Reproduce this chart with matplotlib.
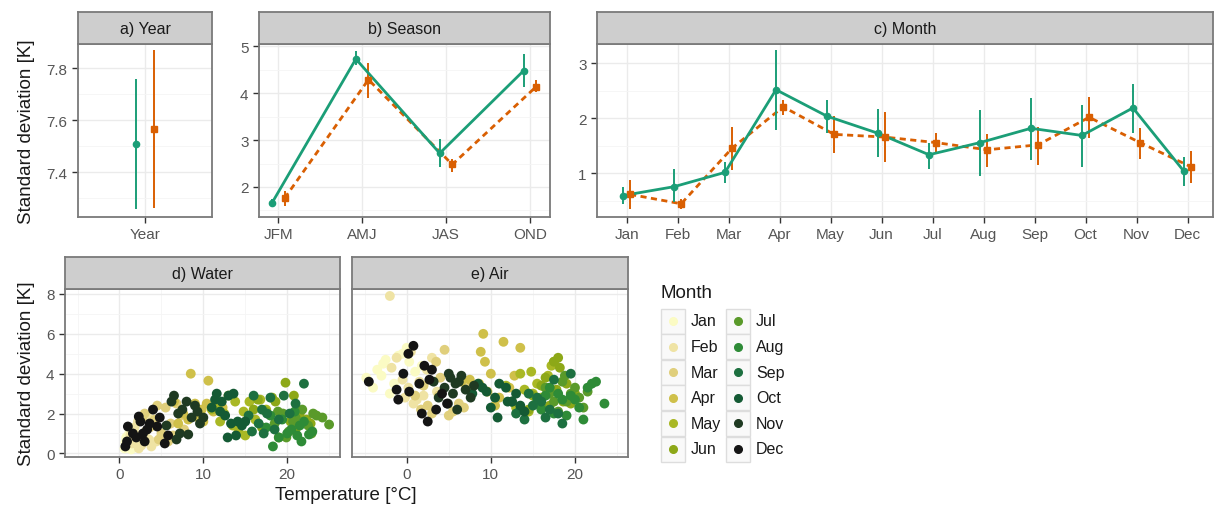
import matplotlib
matplotlib.use("Agg")
import matplotlib.pyplot as plt
from matplotlib.patches import Rectangle
import numpy as np

plt.rcParams['font.family'] = ['Liberation Sans', 'DejaVu Sans']

W, H = 1217, 510
GREEN = "#1b9e77"
ORANGE = "#d95f02"
BORDER = "#7a7a7a"
GRID = "#ebebeb"
STRIP = "#cecece"
TICKC = "#555555"

# ---- a) Year
year_cat = ["Year"]
year_g = [7.51]; year_g_lo = [7.26]; year_g_hi = [7.76]
year_o = [7.565]; year_o_lo = [7.263]; year_o_hi = [7.87]

# ---- b) Season
seasons = ["JFM", "AMJ", "JAS", "OND"]
season_g = [1.66, 4.73, 2.72, 4.48]
season_g_lo = [1.58, 4.60, 2.42, 4.13]
season_g_hi = [1.75, 4.90, 3.02, 4.83]
season_o = [1.76, 4.29, 2.48, 4.14]
season_o_lo = [1.60, 3.90, 2.33, 4.02]
season_o_hi = [1.92, 4.65, 2.60, 4.28]

# ---- c) Month
months = ["Jan", "Feb", "Mar", "Apr", "May", "Jun",
          "Jul", "Aug", "Sep", "Oct", "Nov", "Dec"]
month_g = [0.60, 0.76, 1.02, 2.52, 2.04, 1.73, 1.34, 1.56, 1.82, 1.69, 2.19, 1.04]
month_g_lo = [0.45, 0.48, 0.82, 1.79, 1.73, 1.29, 1.08, 0.95, 1.24, 1.12, 1.73, 0.77]
month_g_hi = [0.76, 1.08, 1.21, 3.24, 2.34, 2.17, 1.55, 2.15, 2.37, 2.24, 2.63, 1.30]
month_o = [0.62, 0.45, 1.46, 2.21, 1.71, 1.66, 1.56, 1.43, 1.52, 2.02, 1.56, 1.12]
month_o_lo = [0.35, 0.35, 1.06, 2.07, 1.37, 1.20, 1.37, 1.12, 1.16, 1.64, 1.26, 0.83]
month_o_hi = [0.88, 0.54, 1.84, 2.34, 2.04, 2.12, 1.74, 1.71, 1.85, 2.39, 1.82, 1.40]

month_colors = ["#fbfbc4", "#efe3a4", "#e0cf7c", "#cfc04a", "#a9b825", "#8da818",
                "#5a9a2a", "#2e8b37", "#1d7040", "#145a34", "#1f3a22", "#141414"]

# ---- d) Water: temperature and standard deviation, per month
water_t = {
    "Jan": [0.6, 0.9, 1.2, 1.5, 0.8, 1.8, 2.1, 1.1, 2.4, 1.4, 0.7, 1.9, 2.6, 1.0],
    "Feb": [1.5, 2.0, 2.6, 3.1, 1.8, 3.5, 2.3, 4.0, 2.9, 1.3, 3.8, 2.2, 3.3, 4.4],
    "Mar": [3.0, 4.2, 5.0, 5.5, 6.1, 3.6, 4.7, 6.8, 7.3, 5.8, 2.7, 4.5, 7.7, 6.4],
    "Apr": [8.5, 10.6, 9.0, 9.8, 7.6, 10.4, 11.2, 8.2, 9.4, 6.5, 11.8, 10.0, 7.0, 12.3],
    "May": [11.0, 12.5, 13.5, 14.8, 15.5, 16.2, 13.0, 12.0, 14.2, 16.8, 15.0, 17.5, 11.6, 13.8],
    "Jun": [19.8, 16.5, 17.5, 18.6, 20.4, 21.5, 19.0, 22.3, 17.0, 20.8, 16.0, 21.0, 18.2, 22.8],
    "Jul": [19.5, 21.0, 22.5, 23.5, 20.2, 24.2, 18.5, 21.8, 22.9, 19.9, 25.0, 20.7, 23.1, 18.9],
    "Aug": [18.3, 20.5, 21.2, 22.0, 19.0, 17.5, 20.0, 21.7, 23.0, 19.4, 22.6, 18.0, 20.9, 21.5],
    "Sep": [16.0, 17.0, 18.0, 19.6, 16.6, 20.3, 18.5, 17.6, 15.4, 21.0, 19.0, 22.0, 17.2, 15.8],
    "Oct": [11.6, 12.2, 13.0, 13.6, 12.0, 14.1, 11.0, 12.6, 14.6, 13.3, 11.4, 12.9, 15.0, 13.9],
    "Nov": [6.5, 7.5, 8.0, 9.0, 8.6, 6.2, 7.2, 9.6, 10.0, 7.0, 8.2, 5.6, 9.3, 6.8],
    "Dec": [0.7, 1.0, 2.3, 2.8, 3.6, 4.0, 1.6, 3.0, 4.5, 5.4, 2.0, 3.3, 0.9, 4.8, 5.8, 2.5],
}
water_sd = {
    "Jan": [0.25, 0.45, 0.35, 0.6, 0.8, 0.3, 0.55, 0.95, 0.4, 0.2, 0.55, 0.75, 0.9, 0.3],
    "Feb": [0.5, 0.9, 0.4, 1.1, 1.3, 0.7, 0.25, 1.5, 0.8, 0.9, 0.35, 1.6, 1.9, 0.6],
    "Mar": [2.0, 1.7, 1.0, 2.3, 1.5, 1.3, 0.7, 2.5, 1.9, 0.6, 1.8, 2.4, 1.2, 0.9],
    "Apr": [4.0, 3.65, 2.5, 2.2, 2.0, 2.5, 2.1, 1.7, 1.8, 2.6, 2.6, 1.6, 1.5, 2.3],
    "May": [2.2, 2.0, 1.4, 2.1, 2.6, 1.7, 2.9, 1.6, 1.1, 2.7, 0.9, 2.2, 2.4, 2.6],
    "Jun": [3.55, 2.7, 2.1, 2.6, 1.6, 2.0, 0.8, 1.7, 1.3, 2.9, 2.2, 1.2, 2.8, 1.5],
    "Jul": [2.0, 1.8, 1.4, 1.9, 1.1, 1.8, 1.5, 2.2, 1.0, 0.8, 1.45, 1.6, 2.0, 2.1],
    "Aug": [0.35, 1.2, 0.9, 1.6, 0.8, 1.3, 1.0, 0.6, 1.1, 1.7, 0.95, 1.9, 2.1, 1.4],
    "Sep": [2.9, 2.2, 2.8, 2.9, 1.5, 2.0, 1.2, 2.0, 1.9, 2.5, 1.7, 3.5, 1.0, 1.1],
    "Oct": [3.0, 2.6, 2.9, 3.0, 2.1, 1.6, 2.3, 1.9, 1.4, 1.5, 2.7, 0.8, 1.6, 0.9],
    "Nov": [2.9, 2.2, 2.6, 2.4, 1.8, 2.6, 1.0, 1.5, 1.8, 2.0, 0.95, 1.4, 2.1, 0.7],
    "Dec": [0.35, 1.35, 1.85, 1.0, 1.5, 2.2, 1.0, 0.6, 1.35, 0.5, 0.8, 1.2, 0.6, 1.8, 0.9, 1.6],
}

# ---- e) Air
air_t = {
    "Jan": [-4.8, -3.5, -2.8, -1.5, -0.5, 0.3, -4.0, -2.0, 1.0, -3.0, 0.0, 1.8, -1.0, -2.5],
    "Feb": [-2.0, -1.2, 0.2, 1.2, 2.4, -0.5, 1.5, 3.0, 0.8, -1.8, 2.0, 3.6, 0.5, -0.2],
    "Mar": [1.0, 2.5, 3.5, 4.5, 5.5, 2.0, 3.0, 6.2, 4.0, 1.7, 5.0, 6.8, 3.8, 7.3],
    "Apr": [9.1, 11.5, 8.8, 9.3, 13.5, 8.6, 10.0, 7.5, 12.2, 9.6, 11.0, 6.5, 12.8, 10.5],
    "May": [13.5, 14.8, 15.5, 16.8, 12.5, 16.0, 17.5, 14.0, 13.0, 15.0, 11.8, 16.5, 14.5, 17.2],
    "Jun": [17.5, 18.0, 16.5, 19.0, 15.0, 20.0, 17.0, 18.6, 16.0, 14.5, 19.5, 17.8, 15.6, 18.2],
    "Jul": [16.5, 17.5, 18.5, 19.5, 20.5, 21.5, 16.0, 18.0, 19.0, 20.0, 17.0, 21.0, 18.8, 15.5],
    "Aug": [15.5, 16.5, 17.5, 18.5, 19.5, 20.5, 21.5, 22.5, 23.5, 17.0, 19.0, 20.0, 18.0, 21.0, 16.0, 22.0],
    "Sep": [12.5, 13.5, 14.5, 15.5, 16.5, 17.5, 18.5, 13.0, 15.0, 19.5, 17.0, 14.0, 16.0, 18.0],
    "Oct": [8.5, 9.5, 10.5, 11.0, 12.5, 13.0, 10.0, 11.8, 14.0, 9.0, 12.0, 7.8, 13.5, 10.8],
    "Nov": [4.5, 5.2, 5.8, 6.5, 7.0, 3.8, 5.5, 6.2, 7.6, 4.9, 6.0, 3.2, 8.0, 5.0],
    "Dec": [-4.5, -1.0, 0.2, 0.8, 2.1, 3.0, -1.2, 0.3, 1.5, 2.7, 3.5, 4.2, 1.8, 4.8, -0.4, 2.5],
}
air_sd = {
    "Jan": [3.8, 4.2, 4.5, 3.5, 5.0, 4.6, 3.3, 3.0, 4.1, 3.9, 5.3, 4.4, 4.9, 4.7],
    "Feb": [7.9, 4.8, 3.3, 2.7, 4.2, 3.7, 3.6, 4.8, 2.5, 4.3, 2.9, 3.1, 5.1, 2.8],
    "Mar": [2.9, 2.4, 4.6, 5.2, 2.1, 3.4, 2.0, 2.5, 3.8, 2.2, 1.9, 2.3, 2.9, 3.3],
    "Apr": [6.0, 5.6, 5.1, 4.6, 5.3, 3.5, 4.0, 3.7, 3.3, 3.1, 2.8, 3.6, 3.9, 2.4],
    "May": [4.0, 4.1, 3.5, 3.9, 2.6, 2.8, 4.6, 3.2, 2.3, 3.0, 3.4, 3.3, 2.1, 4.4],
    "Jun": [4.6, 4.8, 3.8, 3.5, 2.9, 3.0, 2.4, 2.6, 3.4, 2.2, 2.5, 3.2, 2.7, 4.3],
    "Jul": [3.3, 2.6, 3.6, 3.0, 2.8, 3.1, 2.3, 2.1, 2.6, 3.3, 3.0, 2.3, 3.9, 2.7],
    "Aug": [2.5, 2.9, 2.0, 2.7, 2.9, 2.3, 3.3, 3.6, 2.5, 3.3, 1.9, 2.7, 3.0, 1.7, 2.2, 3.5],
    "Sep": [2.6, 2.2, 3.0, 2.8, 1.8, 3.7, 1.5, 2.0, 2.4, 4.0, 2.2, 1.7, 2.6, 2.0],
    "Oct": [3.5, 3.1, 2.8, 3.5, 2.6, 3.0, 2.3, 3.3, 2.1, 3.3, 2.6, 3.0, 2.4, 1.8],
    "Nov": [3.3, 3.8, 3.5, 3.9, 3.2, 2.8, 3.0, 3.6, 2.8, 2.5, 2.2, 3.6, 3.4, 4.0],
    "Dec": [3.6, 2.7, 5.0, 5.4, 4.4, 4.2, 3.2, 3.1, 3.5, 3.7, 2.2, 3.0, 2.0, 2.5, 4.0, 1.6],
}


def box(x0, y0, x1, y1):
    return [x0 / W, 1 - y1 / H, (x1 - x0) / W, (y1 - y0) / H]


def panel(fig, x0, y0, x1, y1, title, strip_h=32):
    ax = fig.add_axes(box(x0, y0, x1, y1))
    st = fig.add_axes(box(x0, y0 - strip_h, x1, y0))
    st.set_facecolor(STRIP)
    st.set_xticks([]); st.set_yticks([])
    for s in st.spines.values():
        s.set_color(BORDER); s.set_linewidth(1.3)
    st.text(0.5, 0.47, title, ha="center", va="center", fontsize=11.5,
            color="#1a1a1a", transform=st.transAxes)
    for s in ax.spines.values():
        s.set_color(BORDER); s.set_linewidth(1.3)
    ax.set_axisbelow(True)
    ax.grid(True, which="major", color=GRID, lw=1.0)
    ax.grid(True, which="minor", color="#f5f5f5", lw=0.6)
    ax.tick_params(which="major", direction="out", length=4, width=1.0,
                   color="#333333", labelcolor=TICKC, labelsize=11)
    ax.tick_params(which="minor", length=0)
    return ax


def draw_pair(ax, x, g, glo, ghi, o, olo, ohi, dodge=0.075, lines=True):
    x = np.asarray(x, dtype=float)
    xg, xo = x - dodge, x + dodge
    if lines:
        ax.plot(xo, o, color=ORANGE, lw=2.0, ls=(0, (2.2, 1.6)), zorder=3)
        ax.plot(xg, g, color=GREEN, lw=2.0, zorder=4)
    ax.vlines(xo, olo, ohi, color=ORANGE, lw=1.4, zorder=3)
    ax.vlines(xg, glo, ghi, color=GREEN, lw=1.4, zorder=4)
    ax.plot(xo, o, "s", color=ORANGE, ms=5, zorder=5)
    ax.plot(xg, g, "o", color=GREEN, ms=4.5, zorder=5)


fig = plt.figure(figsize=(W / 100, H / 100), dpi=100)

# a) Year
ax = panel(fig, 78, 45, 212, 218, "a) Year")
draw_pair(ax, range(len(year_cat)), year_g, year_g_lo, year_g_hi,
          year_o, year_o_lo, year_o_hi, dodge=0.085, lines=False)
ax.set_xlim(-0.6, 0.6)
ax.set_ylim(7.228, 7.893)
ax.set_xticks(range(len(year_cat)), year_cat)
ax.set_yticks([7.4, 7.6, 7.8], ["7.4", "7.6", "7.8"])
ax.set_yticks([7.3, 7.5, 7.7], minor=True)
ax.set_ylabel("Standard deviation [K]", fontsize=13.5, color="#1a1a1a", labelpad=8)

# b) Season
ax = panel(fig, 259, 45, 550, 218, "b) Season")
draw_pair(ax, range(len(seasons)), season_g, season_g_lo, season_g_hi,
          season_o, season_o_lo, season_o_hi)
ax.set_xlim(-0.23, 3.24)
ax.set_ylim(1.36, 5.05)
ax.set_xticks(range(len(seasons)), seasons)
ax.set_yticks([2, 3, 4, 5])
ax.set_yticks([1.5, 2.5, 3.5, 4.5], minor=True)

# c) Month
ax = panel(fig, 597, 45, 1213, 218, "c) Month")
draw_pair(ax, range(len(months)), month_g, month_g_lo, month_g_hi,
          month_o, month_o_lo, month_o_hi, dodge=0.07)
ax.set_xlim(-0.58, 11.5)
ax.set_ylim(0.21, 3.35)
ax.set_xticks(range(len(months)), months)
ax.set_yticks([1, 2, 3])
ax.set_yticks([0.5, 1.5, 2.5], minor=True)

# d) Water and e) Air
scatter_panels = [
    (65, 340, "d) Water", water_t, water_sd),
    (352, 628, "e) Air", air_t, air_sd),
]
for i, (x0, x1, title, temps, sds) in enumerate(scatter_panels):
    ax = panel(fig, x0, 290, x1, 458, title)
    for m, c in zip(months, month_colors):
        ax.scatter(temps[m], sds[m], s=50, color=c, edgecolors="none", zorder=3)
    ax.set_xlim(-6.5, 26.3)
    ax.set_ylim(-0.18, 8.25)
    ax.set_xticks([0, 10, 20])
    ax.set_xticks([-5, 5, 15, 25], minor=True)
    ax.set_yticks([0, 2, 4, 6, 8])
    ax.set_yticks([1, 3, 5, 7], minor=True)
    if i == 0:
        ax.set_ylabel("Standard deviation [K]", fontsize=13.5, color="#1a1a1a", labelpad=8)
    else:
        ax.tick_params(axis="y", length=0, labelleft=False)

fig.text(346 / W, 1 - 496 / H, "Temperature [°C]", ha="center", va="center",
         fontsize=13.5, color="#1a1a1a")

# Month legend
leg = fig.add_axes([0, 0, 1, 1], facecolor="none")
leg.set_xlim(0, W); leg.set_ylim(H, 0); leg.axis("off")
leg.text(660, 294, "Month", fontsize=13.5, color="#1a1a1a", va="center", ha="left")
for k, (m, c) in enumerate(zip(months, month_colors)):
    col, row = divmod(k, 6)
    kx = 661 + col * 65
    ky = 322 + row * 25.6
    leg.add_patch(Rectangle((kx, ky - 12.5), 24, 25, facecolor="#f9f9f9",
                            edgecolor="#dddddd", lw=1.0))
    leg.plot(kx + 12, ky, "o", color=c, ms=5.5)
    leg.text(kx + 30, ky, m, fontsize=11.5, color="#1a1a1a", va="center", ha="left")

fig.savefig("out.png", dpi=100)
